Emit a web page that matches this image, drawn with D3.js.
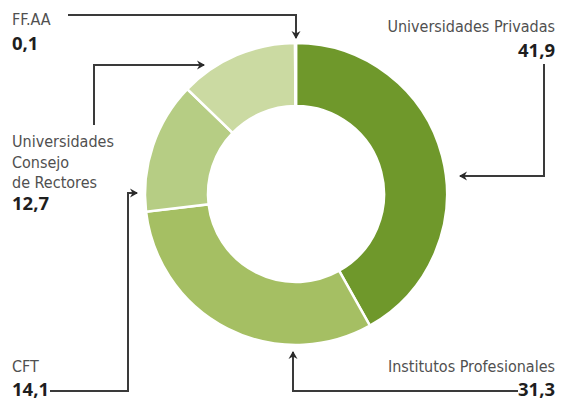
<!DOCTYPE html>
<html>
<head>
<meta charset="utf-8">
<script src="https://cdn.jsdelivr.net/npm/d3@7"></script>
<style>
  html, body { margin: 0; padding: 0; background: #fff; }
  svg { display: block; }
  .lbl { font-family: "Liberation Sans Narrow", "DejaVu Sans Condensed", "Roboto", sans-serif; font-size: 16px; fill: #505050; }
  .val { font-family: "Open Sans", "Roboto", sans-serif; font-size: 18.5px; font-weight: 700; fill: #1e1e1e; }
</style>
</head>
<body>
<svg id="chart" width="563" height="403"></svg>
<script>
const categories = ["Universidades Privadas", "Institutos Profesionales", "CFT", "Universidades Consejo de Rectores", "FF.AA"];
const values = [41.9, 31.3, 14.1, 12.7, 0.1];
const valueLabels = ["41,9", "31,3", "14,1", "12,7", "0,1"];
const colors = ["#6f982b", "#a5bf63", "#b6cd84", "#cbdaa2", "#d9e5bb"];

const svg = d3.select("#chart");
const cx = 296, cy = 194, rOuter = 151, rInner = 88;

const pie = d3.pie().sort(null).value(d => d).startAngle(0).endAngle(2 * Math.PI);
const arc = d3.arc().innerRadius(rInner).outerRadius(rOuter);

svg.append("defs").append("marker")
  .attr("id", "arr").attr("viewBox", "-6 -5 10 10")
  .attr("markerWidth", 10).attr("markerHeight", 10)
  .attr("refX", 2).attr("refY", 0)
  .attr("markerUnits", "userSpaceOnUse")
  .attr("orient", "auto")
  .append("path").attr("d", "M-5,-4.5 L3,0 L-5,4.5 L-2.5,0 Z").attr("fill", "#2a2a2a");

const g = svg.append("g").attr("transform", `translate(${cx},${cy})`);
g.selectAll("path").data(pie(values)).join("path")
  .attr("d", arc)
  .attr("fill", (d, i) => colors[i])
  .attr("stroke", "#fff").attr("stroke-width", 2.5);

// connectors (layout)
const connectors = [
  [[544, 64], [544, 176], [460, 176]],          // Privadas
  [[518, 391], [293, 391], [293, 352]],         // Institutos
  [[50, 391], [128, 391], [128, 193], [137, 193]], // CFT
  [[94, 125], [94, 65], [204, 65]],             // Consejo
  [[68, 15], [296, 15], [296, 38]]              // FF.AA
];
const line = d3.line();
svg.selectAll("path.conn").data(connectors).join("path")
  .attr("class", "conn")
  .attr("d", line)
  .attr("fill", "none").attr("stroke", "#3a3a3a").attr("stroke-width", 2)
  .attr("marker-end", "url(#arr)");

// labels
const labelSpecs = [
  { lines: ["Universidades Privadas"], x: 555, y: 32, anchor: "end", vy: 57 },
  { lines: ["Institutos Profesionales"], x: 555, y: 372, anchor: "end", vy: 396 },
  { lines: ["CFT"], x: 12, y: 372, anchor: "start", vy: 396 },
  { lines: ["Universidades", "Consejo", "de Rectores"], x: 12, y: 147, anchor: "start", vy: 210 },
  { lines: ["FF.AA"], x: 12, y: 25, anchor: "start", vy: 50 }
];
labelSpecs.forEach((s, i) => {
  const t = svg.append("text").attr("class", "lbl").attr("text-anchor", s.anchor);
  s.lines.forEach((ln, j) => {
    t.append("tspan").attr("x", s.x).attr("y", s.y + j * 20.5).text(ln);
  });
  svg.append("text").attr("class", "val").attr("text-anchor", s.anchor)
    .attr("x", s.x).attr("y", s.vy).text(valueLabels[i]);
});
</script>
</body>
</html>
